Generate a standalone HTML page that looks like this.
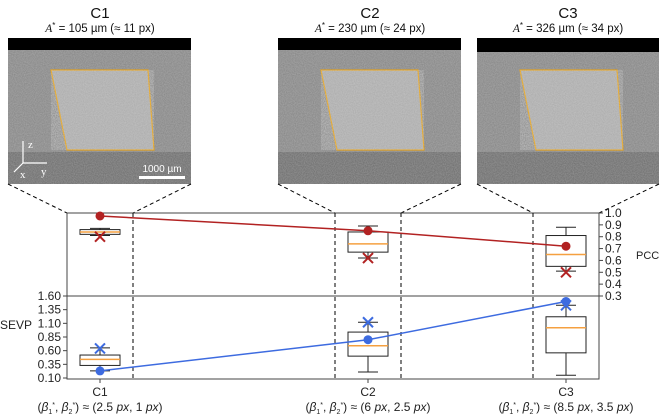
<!DOCTYPE html>
<html><head><meta charset="utf-8"><style>
body{margin:0;background:#fff;width:660px;height:414px;overflow:hidden;font-family:"Liberation Sans",sans-serif}
</style></head><body>
<svg id="fig" width="660" height="414" xmlns="http://www.w3.org/2000/svg" font-family="Liberation Sans, DejaVu Sans, sans-serif">
<defs>
<filter id="noise" x="0" y="0" width="100%" height="100%"><feTurbulence type="fractalNoise" baseFrequency="0.9" numOctaves="2" seed="3"/><feColorMatrix type="matrix" values="0 0 0 0 1  0 0 0 0 1  0 0 0 0 1  0 0 0 0.3 0"/></filter>
</defs>
<g id="images"></g>
<g id="chart"></g>
</svg>
<script>
const categories=["C1","C2","C3"];
const titlesA=["105","230","326"];
const titlesPx=["11","24","34"];
const betaA=["2.5","6","8.5"];
const betaB=["1","2.5","3.5"];
const pccBox=[[0.81,0.82,0.84,0.86,0.87],[0.62,0.67,0.74,0.84,0.89],[0.51,0.55,0.65,0.81,0.88]];
const pccDot=[0.975,0.85,0.72];
const pccX=[0.80,0.62,0.50];
const sevpBox=[[0.23,0.33,0.44,0.52,0.65],[0.21,0.50,0.69,0.94,1.12],[0.15,0.56,1.02,1.22,1.43]];
const sevpDot=[0.23,0.80,1.50];
const sevpX=[0.64,1.12,1.43];
const pccTicks=[1.0,0.9,0.8,0.7,0.6,0.5,0.4,0.3];
const sevpTicks=[1.60,1.35,1.10,0.85,0.60,0.35,0.10];

const NS="http://www.w3.org/2000/svg";
function mk(p,tag,a,txt){const e=document.createElementNS(NS,tag);for(const k in a)e.setAttribute(k,a[k]);if(txt!==undefined)e.textContent=txt;p.appendChild(e);return e;}
const L=67,R=599,T=213,M=296,B=379;
const xC=[100,368,566];
const panelX=[[67,133],[335,401],[533,599]];
const pY=v=>T+(1.0-v)*(M-T)/0.7;
const sY=v=>M+(1.6-v)*(378-M)/1.5;

const imgs=document.getElementById('images');
const imgX=[[8,191],[278,461],[477,659]];
const titleX=[100,370,568];
categories.forEach((c,i)=>{
  const g=mk(imgs,'g',{});
  
  
  const x0=imgX[i][0],w=imgX[i][1]-x0;
  mk(g,'rect',{x:x0,y:38,width:w,height:146,fill:'#838383'});
  mk(g,'rect',{x:x0,y:152,width:w,height:32,fill:'#6a6a6a'});
  mk(g,'rect',{x:x0,y:38,width:w,height:146,filter:'url(#noise)'});
  mk(g,'rect',{x:x0,y:38,width:w,height:i==2?14:12,fill:'#000'});
  const q=`${x0+43},70 ${x0+140},70 ${x0+146},150 ${x0+59},150`;
  mk(g,'polygon',{points:q,fill:'#a9a9a9',stroke:'#e0a020','stroke-width':1.2});
  mk(g,'polygon',{points:q,filter:'url(#noise)'});
  const t=mk(g,'text',{x:titleX[i],y:18,'text-anchor':'middle','font-size':15,fill:'#111'},c);
  
  
  const s=mk(g,'text',{x:titleX[i],y:32,'text-anchor':'middle','font-size':11.5,fill:'#111'});
  
  
  mk(s,'tspan',{'font-style':'italic','font-family':'Liberation Serif, serif'},'A');
  mk(s,'tspan',{'font-size':8,dy:-4},'*');
  mk(s,'tspan',{dy:4},' = '+titlesA[i]+' µm (≈ '+titlesPx[i]+' px)');
  mk(imgs,'line',{x1:x0,y1:184,x2:panelX[i][0],y2:T,stroke:'#000','stroke-dasharray':'4,3','stroke-width':1});
  mk(imgs,'line',{x1:imgX[i][1],y1:184,x2:panelX[i][1],y2:T,stroke:'#000','stroke-dasharray':'4,3','stroke-width':1});
});
const ax=mk(imgs,'g',{stroke:'#fff','stroke-width':1.2,fill:'#fff','font-size':11});


mk(ax,'line',{x1:23,y1:163,x2:23,y2:141});mk(ax,'line',{x1:23,y1:163,x2:47,y2:163});mk(ax,'line',{x1:23,y1:163,x2:14,y2:172});
mk(ax,'text',{x:28,y:148,stroke:'none',fill:'#fff','font-family':'Liberation Serif, serif'},'z');
mk(ax,'text',{x:41,y:175,stroke:'none',fill:'#fff','font-family':'Liberation Serif, serif'},'y');
mk(ax,'text',{x:20,y:178,stroke:'none',fill:'#fff','font-family':'Liberation Serif, serif'},'x');
const sb=mk(imgs,'g',{});


mk(sb,'rect',{x:139,y:176,width:46,height:3,fill:'#fff'});
mk(sb,'text',{x:162,y:172,'text-anchor':'middle','font-size':10,fill:'#fff'},'1000 µm');

const ch=document.getElementById('chart');
const frame=mk(ch,'rect',{x:L,y:T,width:R-L,height:B-T,fill:'none',stroke:'#444','stroke-width':1});


mk(ch,'line',{x1:L,y1:M,x2:R,y2:M,stroke:'#444','stroke-width':1});
panelX.forEach((p,i)=>p.forEach(x=>{ if(x!==L&&x!==R) mk(ch,'line',{x1:x,y1:T,x2:x,y2:B,stroke:'#000','stroke-dasharray':'4,3','stroke-width':1});}));
pccTicks.forEach(v=>{const y=pY(v);mk(ch,'line',{x1:R,y1:y,x2:R+4,y2:y,stroke:'#444'});
 const t=mk(ch,'text',{x:R+6,y:y+4,'font-size':12,fill:'#222'},v.toFixed(1));
 
 });
sevpTicks.forEach(v=>{const y=sY(v);mk(ch,'line',{x1:L-4,y1:y,x2:L,y2:y,stroke:'#444'});
 const t=mk(ch,'text',{x:L-6,y:y+4,'font-size':12,fill:'#222','text-anchor':'end'},v.toFixed(2));
 
 });
const pl=mk(ch,'text',{x:636,y:259,'font-size':11,fill:'#222'},'PCC');


const sl=mk(ch,'text',{x:0,y:329,'font-size':12,fill:'#222'},'SEVP');


function box(b,f,x,name){const g=mk(ch,'g',{});
 
 
 const w=20;
 mk(g,'line',{x1:x,y1:f(b[0]),x2:x,y2:f(b[1]),stroke:'#222'});
 mk(g,'line',{x1:x,y1:f(b[3]),x2:x,y2:f(b[4]),stroke:'#222'});
 mk(g,'line',{x1:x-10,y1:f(b[0]),x2:x+10,y2:f(b[0]),stroke:'#222'});
 mk(g,'line',{x1:x-10,y1:f(b[4]),x2:x+10,y2:f(b[4]),stroke:'#222'});
 mk(g,'rect',{x:x-w,y:f(b[3]),width:2*w,height:f(b[1])-f(b[3]),fill:'none',stroke:'#222','stroke-width':1});
 mk(g,'line',{x1:x-w,y1:f(b[2]),x2:x+w,y2:f(b[2]),stroke:'#f5a040','stroke-width':1.5});}
function cross(x,y,c,name){const g=mk(ch,'g',{stroke:c,'stroke-width':2});
 
 
 mk(g,'line',{x1:x-5,y1:y-5,x2:x+5,y2:y+5});mk(g,'line',{x1:x-5,y1:y+5,x2:x+5,y2:y-5});}
categories.forEach((c,i)=>{box(pccBox[i],pY,xC[i],'pcc-box-'+c.toLowerCase());box(sevpBox[i],sY,xC[i],'sevp-box-'+c.toLowerCase());});
const red='#b22222',blue='#3d6be0';
const pLine=mk(ch,'polyline',{points:pccDot.map((v,i)=>xC[i]+','+pY(v)).join(' '),fill:'none',stroke:red,'stroke-width':1.5});


const sLine=mk(ch,'polyline',{points:sevpDot.map((v,i)=>xC[i]+','+sY(v)).join(' '),fill:'none',stroke:blue,'stroke-width':1.5});


categories.forEach((c,i)=>{
 cross(xC[i],pY(pccX[i]),red,'pcc-cross-'+c.toLowerCase());
 cross(xC[i],sY(sevpX[i]),blue,'sevp-cross-'+c.toLowerCase());
 const d1=mk(ch,'circle',{cx:xC[i],cy:pY(pccDot[i]),r:4.5,fill:red});
 
 
 const d2=mk(ch,'circle',{cx:xC[i],cy:sY(sevpDot[i]),r:4.5,fill:blue});
 
 
 mk(ch,'line',{x1:xC[i],y1:B,x2:xC[i],y2:B+4,stroke:'#444'});
 const xl=mk(ch,'text',{x:xC[i],y:B+17,'text-anchor':'middle','font-size':12,fill:'#222'},c);
 
 
 const bl=mk(ch,'text',{x:xC[i],y:B+32,'text-anchor':'middle','font-size':12,fill:'#222'});
 
 
 mk(bl,'tspan',{},'(');mk(bl,'tspan',{'font-style':'italic'},'β');mk(bl,'tspan',{'font-size':7,dy:3},'1');mk(bl,'tspan',{'font-size':7,dy:-7},'*');
 mk(bl,'tspan',{dy:4},', ');mk(bl,'tspan',{'font-style':'italic'},'β');mk(bl,'tspan',{'font-size':7,dy:3},'2');mk(bl,'tspan',{'font-size':7,dy:-7},'*');
 mk(bl,'tspan',{dy:4},') ≈ ('+betaA[i]+' ');mk(bl,'tspan',{'font-style':'italic'},'px');
 mk(bl,'tspan',{},',  '+betaB[i]+' ');mk(bl,'tspan',{'font-style':'italic'},'px');mk(bl,'tspan',{},')');
});
</script>
</body></html>
